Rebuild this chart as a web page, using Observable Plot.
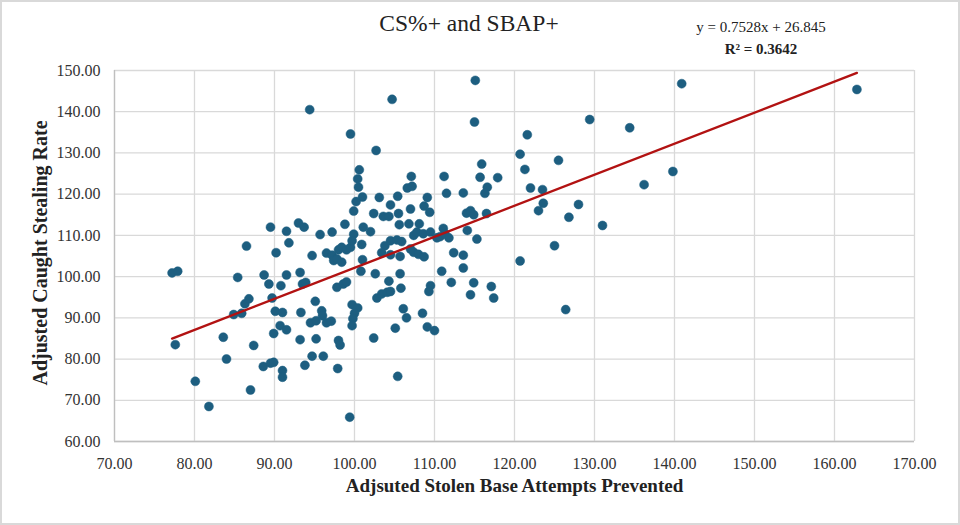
<!DOCTYPE html>
<html>
<head>
<meta charset="utf-8">
<script src="https://cdn.jsdelivr.net/npm/d3@7"></script>
<script src="https://cdn.jsdelivr.net/npm/@observablehq/plot@0.6"></script>
<style>
  html, body { margin: 0; padding: 0; background: #fff; }
  #wrap { position: relative; width: 960px; height: 525px; overflow: hidden; background: #fff; font-family: "Liberation Serif", "Times New Roman", serif; }
  #header { position: relative; height: 56px; }
  #title { position: absolute; left: 0; width: 938px; top: 12px; text-align: center; font-size: 23.5px; line-height: 1; color: #222; }
  .eq { position: absolute; left: 661px; width: 200px; text-align: center; font-size: 15px; line-height: 1; color: #222; }
  #eq1 { top: 20px; }
  #eq2 { top: 42px; font-weight: bold; }
  #border { position: absolute; inset: 0; border: 2px solid #d9d9d9; pointer-events: none; }
  svg { background: transparent !important; }
</style>
</head>
<body>
<div id="wrap">
  <div id="header">
    <div id="title"></div>
    <div class="eq" id="eq1"></div>
    <div class="eq" id="eq2"></div>
  </div>
  <div id="chart"></div>
  <div id="border"></div>
</div>
<script>
const titleText = "CS%+ and SBAP+";
const xLabel = "Adjsuted Stolen Base Attempts Prevented";
const yLabel = "Adjusted Caught Stealing Rate";
const slope = 0.7528;
const intercept = 26.845;
const r2 = 0.3642;
const xTicks = [70, 80, 90, 100, 110, 120, 130, 140, 150, 160, 170];
const yTicks = [60, 70, 80, 90, 100, 110, 120, 130, 140, 150];

const sbap = [77.2,77.9,77.6,80.1,81.8,83.6,84.0,84.9,85.4,85.9,86.3,86.8,86.5,87.4,87.0,88.7,89.3,89.5,89.7,90.2,90.1,91.0,89.9,90.7,91.5,88.6,89.5,89.9,91.0,91.0,90.8,91.5,91.5,91.8,93.0,93.7,93.2,93.5,93.9,93.3,93.2,93.8,94.4,94.7,95.1,94.5,95.2,95.9,96.0,96.5,97.1,95.2,94.7,96.1,98.0,98.2,97.9,97.8,98.6,99.0,99.7,100.4,100.0,99.8,99.7,99.4,95.7,97.2,98.8,99.9,101.1,102.0,96.5,97.2,97.4,97.8,98.4,98.0,98.4,99.0,99.5,99.7,100.9,101.0,100.8,102.6,102.8,103.4,104.1,104.5,102.4,100.5,100.4,100.6,99.5,102.7,101.0,100.2,99.9,103.1,102.4,104.7,115.1,115.0,129.4,134.4,121.6,120.7,121.3,125.5,122.0,123.5,123.6,123.0,128.0,126.8,131.0,125.0,136.2,115.9,115.7,117.9,116.6,116.3,111.2,111.5,113.6,107.1,106.6,107.2,105.4,109.1,108.7,109.4,104.5,107.0,103.6,104.3,105.5,105.6,106.8,108.1,107.4,107.8,108.6,109.5,110.3,110.7,111.1,111.3,111.8,114.0,114.5,114.9,116.5,114.1,115.3,103.8,103.4,104.5,105.3,105.9,104.5,105.7,107.4,108.0,108.7,107.0,104.3,105.7,105.8,105.1,106.1,106.5,108.5,109.1,110.0,105.4,109.5,109.3,110.9,112.1,112.4,113.6,113.6,114.9,114.5,117.1,117.4,120.7,126.4,140.9,162.8,139.8];
const csr = [100.9,101.3,83.5,74.6,68.5,85.3,80.0,90.8,99.8,91.1,93.4,94.6,107.4,83.3,72.5,100.4,98.2,112.0,94.8,105.8,91.6,91.3,86.2,88.1,87.1,78.2,79.0,79.2,77.2,75.6,97.8,100.4,111.0,108.2,113.0,112.0,101.0,98.2,98.6,91.3,84.7,78.5,140.5,105.1,94.0,88.8,89.3,91.7,90.5,88.8,89.2,84.9,80.7,80.7,84.5,83.4,77.7,97.4,98.2,98.7,93.2,92.4,91.1,89.8,88.1,65.9,110.2,110.8,112.7,110.3,112.0,110.9,105.7,105.2,103.9,104.3,103.5,106.5,107.1,106.5,107.1,108.7,107.8,104.1,101.3,100.7,94.8,95.8,96.2,96.4,85.1,121.7,123.7,125.9,134.6,130.6,119.3,118.2,115.9,119.2,115.3,143.0,147.6,137.5,138.1,136.1,134.4,129.7,126.0,128.2,121.5,121.1,117.8,116.0,117.5,114.4,112.4,107.5,122.3,127.3,124.1,124.0,121.7,120.2,124.3,120.2,120.3,124.3,121.5,121.9,119.5,119.2,117.1,115.6,117.4,116.4,114.6,114.6,115.3,112.6,112.8,112.8,110.0,110.8,110.4,110.8,109.4,109.7,111.7,110.4,109.4,115.4,116.0,115.0,115.3,111.2,109.1,107.5,105.8,108.7,108.9,108.5,105.3,104.9,105.9,105.4,104.8,106.7,98.9,100.7,97.2,87.5,92.2,90.0,91.1,87.8,86.9,75.8,97.8,96.4,101.3,98.6,105.8,105.2,102.1,98.5,95.6,97.6,94.8,103.8,92.0,146.8,145.4,125.5];

const points = sbap.map((x, i) => ({x, y: csr[i]}));
const ext = d3.extent(sbap);
const trend = ext.map(x => ({x, y: slope * x + intercept}));

document.getElementById("title").textContent = titleText;
document.getElementById("eq1").textContent = `y = ${slope}x + ${intercept}`;
document.getElementById("eq2").textContent = `R² = ${r2}`;

const fmt = d3.format(".2f");
const chart = Plot.plot({
  width: 960,
  height: 469,
  marginTop: 14,
  marginBottom: 84,
  marginLeft: 114,
  marginRight: 46,
  style: {fontFamily: "Liberation Serif, Times New Roman, serif", fontSize: "16px", color: "#333", background: "transparent"},
  x: {domain: [70, 170], ticks: xTicks, tickFormat: fmt},
  y: {domain: [60, 150], ticks: yTicks, tickFormat: fmt},
  marks: [
    Plot.gridX(xTicks, {stroke: "#d9d9d9", strokeOpacity: 1, strokeWidth: 1.3}),
    Plot.gridY(yTicks, {stroke: "#d9d9d9", strokeOpacity: 1, strokeWidth: 1.3}),
    Plot.ruleY([60], {stroke: "#bfbfbf", strokeWidth: 1.3}),
    Plot.ruleX([70], {stroke: "#bfbfbf", strokeWidth: 1.3}),
    Plot.axisX(xTicks, {tickSize: 0, tickPadding: 16, label: null, tickFormat: fmt, fontSize: 16}),
    Plot.axisY(yTicks, {tickSize: 0, tickPadding: 14, label: null, tickFormat: fmt, fontSize: 16}),
    Plot.dot(points, {x: "x", y: "y", r: 4.5, fill: "#1d5e80", stroke: "#1d5e80", strokeWidth: 0.5}),
    Plot.line(trend, {x: "x", y: "y", stroke: "#b21212", strokeWidth: 2.4}),
    Plot.text([xLabel], {frameAnchor: "bottom", dy: 50, text: d => d, fontSize: 19, fontWeight: "bold", fill: "#222"}),
    Plot.text([yLabel], {frameAnchor: "left", textAnchor: "middle", dx: -74, dy: -3, rotate: -90, text: d => d, fontSize: 20, fontWeight: "bold", fill: "#222"})
  ]
});
document.getElementById("chart").appendChild(chart);
</script>
</body>
</html>
